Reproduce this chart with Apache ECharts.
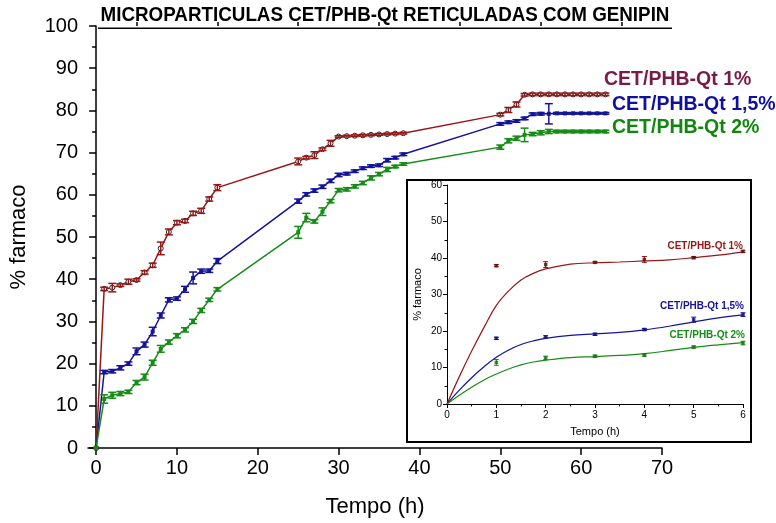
<!DOCTYPE html>
<html><head><meta charset="utf-8">
<script src="https://cdn.jsdelivr.net/npm/echarts@6/dist/echarts.min.js"></script>
<style>html,body{margin:0;padding:0;background:#fff}#c{width:776px;height:523px}</style>
</head><body><div id="c"></div>
<script>
// ---- main chart data ----
const timeMain = [0,1,2,3,4,5,6,7,8,9,10,11,12,13,14,15,25,26,27,28,29,30,31,32,33,34,35,36,37,38,50,51,52,53,54,55,56,57,58,59,60,61,62,63];
const rel1  = [0,37.7,38.0,38.6,39.4,39.8,41.6,43.3,47.3,51.2,53.4,53.8,55.6,56.2,59.0,61.7, 67.9,68.8,69.4,70.8,72.2,73.8,73.9,74.0,74.1,74.2,74.3,74.4,74.5,74.6, 79.0,80.1,81.4,83.7,83.8,83.8,83.8,83.8,83.8,83.8,83.8,83.8,83.8,83.8];
const err1  = [0,0.4,1.0,0.3,0.6,0.3,0.4,0.5,1.5,0.7,0.5,0.4,0.5,0.6,0.5,0.7, 0.8,0.3,0.8,0.3,0.7,0.2,0.2,0.2,0.2,0.2,0.2,0.2,0.2,0.2, 0.3,0.6,0.6,0.3,0.3,0.3,0.3,0.3,0.3,0.3,0.3,0.3,0.3,0.3];
const rel15 = [0,18.0,18.2,19.0,20.0,22.9,24.5,27.6,31.4,35.1,35.4,37.6,40.3,41.9,42.0,44.3, 58.5,60.1,61.0,61.9,63.3,64.7,65.0,65.6,66.3,66.8,67.0,68.2,68.8,69.6, 76.8,77.2,77.5,78.1,79.1,79.2,79.2,79.3,79.3,79.3,79.3,79.3,79.3,79.3];
const err15 = [0,0.4,0.4,0.5,0.4,0.8,0.6,1.0,0.6,0.5,0.4,0.7,1.4,0.5,0.4,0.6, 0.5,0.4,0.4,0.4,0.4,0.4,0.3,0.3,0.3,0.3,0.3,0.4,0.3,0.3, 0.3,0.3,0.3,0.3,0.3,0.3,2.4,0.2,0.2,0.2,0.2,0.2,0.2,0.2];
const rel2  = [0,11.6,12.5,12.9,13.3,15.5,16.8,20.2,23.5,25.1,26.6,28.0,30.0,32.6,35.1,37.6, 51.1,54.6,53.7,56.0,58.5,61.1,61.3,62.0,62.8,64.0,64.9,66.0,66.7,67.3, 71.3,72.8,73.4,74.2,74.4,74.7,75.0,75.0,75.0,75.0,75.0,75.0,75.0,75.0];
const err2  = [0,1.0,0.7,0.5,0.4,0.5,0.7,0.6,0.8,0.5,0.5,0.5,0.5,0.5,0.4,0.4, 1.4,1.0,0.4,0.9,0.4,0.4,0.4,0.4,0.4,0.5,0.4,0.5,0.3,0.3, 0.5,0.5,0.5,1.6,0.4,0.5,0.5,0.3,0.3,0.3,0.3,0.3,0.3,0.3];
const mainXTicks = [0,10,20,30,40,50,60,70];
const mainXMinor = [5,15,25,35,45,55,65];

// ---- inset data ----
const timeInset = [1,2,3,4,5,6];
const ins1  = [37.9,38.2,38.8,39.6,40.1,41.8];
const insErr1 = [0.3,0.8,0.2,0.8,0.3,0.3];
const ins15 = [18.0,18.4,19.1,20.4,23.1,24.5];
const insErr15 = [0.3,0.3,0.3,0.3,0.7,0.5];
const ins2  = [11.4,12.6,13.1,13.4,15.6,16.7];
const insErr2 = [0.8,0.5,0.3,0.3,0.3,0.5];
const fitTime = [0,0.25,0.5,0.75,1,1.25,1.5,1.75,2,2.5,3,3.5,4,4.5,5,5.5,6];
const fit1  = [0,7.5,14.5,21,27,31,34,35.8,37,38.3,38.7,38.9,39.2,39.5,40.1,40.8,41.7];
const fit15 = [0,3.8,7.2,10.2,12.8,14.8,16.3,17.3,18.0,18.8,19.2,19.6,20.3,21.3,22.5,23.6,24.4];
const fit2  = [0,2.4,4.6,6.6,8.2,9.6,10.7,11.5,12.0,12.7,13.0,13.3,13.8,14.6,15.5,16.2,16.8];

const titleText = 'MICROPARTICULAS CET/PHB-Qt RETICULADAS COM GENIPIN';
const names = ['CET/PHB-Qt 1%','CET/PHB-Qt 1,5%','CET/PHB-Qt 2%'];

const C1 = '#9a1616', C15 = '#14149a', C2 = '#168c16';
const T1 = '#7a1a48', T15 = '#1010a0', T2 = '#10880f';
const FONT = "'Liberation Sans', Arial, sans-serif";

const pairs = (xs, ys) => xs.map((x, i) => [x, ys[i]]);
const triples = (xs, ys, es) => xs.map((x, i) => [x, ys[i], es[i]]).filter(d => d[2] > 0);

function errRender(cap, color, lw) {
  return function (params, api) {
    const x = api.value(0), y = api.value(1), e = api.value(2);
    const p1 = api.coord([x, y + e]), p2 = api.coord([x, y - e]);
    const st = { stroke: color, lineWidth: lw };
    return { type: 'group', children: [
      { type: 'line', shape: { x1: p1[0], y1: p1[1], x2: p2[0], y2: p2[1] }, style: st },
      { type: 'line', shape: { x1: p1[0] - cap, y1: p1[1], x2: p1[0] + cap, y2: p1[1] }, style: st },
      { type: 'line', shape: { x1: p2[0] - cap, y1: p2[1], x2: p2[0] + cap, y2: p2[1] }, style: st }
    ]};
  };
}
function errSeries(xi, yi, data, cap, color, lw) {
  return { type: 'custom', xAxisIndex: xi, yAxisIndex: yi, renderItem: errRender(cap, color, lw),
    data: data, encode: { x: 0, y: 1 }, z: 4, silent: true };
}

const axisLineStyle = { color: '#000', width: 1.5 };
const chart = echarts.init(document.getElementById('c'), null, { renderer: 'canvas' });
chart.setOption({
  animation: false,
  backgroundColor: '#fff',
  textStyle: { fontFamily: FONT },
  grid: [
    { left: 87, top: 26, width: 575, height: 425 },
    { left: 447, top: 185, width: 296, height: 219 }
  ],
  xAxis: [
    { gridIndex: 0, type: 'value', min: -1, max: 70,
      axisLine: { show: true, lineStyle: axisLineStyle },
      axisTick: { show: true, customValues: mainXTicks, length: 7, lineStyle: { color: '#000', width: 1.5 } },
      axisLabel: { show: true, customValues: mainXTicks, fontSize: 20, color: '#000', margin: 10, fontFamily: FONT },
      splitLine: { show: false },
      name: 'Tempo (h)', nameLocation: 'middle', nameGap: 48,
      nameTextStyle: { fontSize: 22, color: '#000', fontFamily: FONT } },
    { gridIndex: 0, type: 'value', min: -1, max: 70,
      axisLine: { show: false },
      axisTick: { show: true, customValues: mainXMinor, length: 4, lineStyle: { color: '#000', width: 1.5 } },
      axisLabel: { show: false }, splitLine: { show: false } },
    { gridIndex: 1, type: 'value', min: 0, max: 6, interval: 1,
      axisLine: { show: true, lineStyle: { color: '#000', width: 1 } },
      axisTick: { show: true, length: 4, lineStyle: { color: '#000' } },
      minorTick: { show: true, splitNumber: 2, length: 2.5, lineStyle: { color: '#000' } },
      axisLabel: { fontSize: 10, color: '#000', margin: 6, fontFamily: FONT },
      splitLine: { show: false },
      name: 'Tempo (h)', nameLocation: 'middle', nameGap: 22,
      nameTextStyle: { fontSize: 11, color: '#000', fontFamily: FONT } }
  ],
  yAxis: [
    { gridIndex: 0, type: 'value', min: 0, max: 100, interval: 10,
      axisLine: { show: true, lineStyle: axisLineStyle },
      axisTick: { show: true, length: 7, lineStyle: { color: '#000', width: 1.5 } },
      minorTick: { show: true, splitNumber: 2, length: 4, lineStyle: { color: '#000', width: 1.5 } },
      axisLabel: { fontSize: 20, color: '#000', margin: 10, fontFamily: FONT },
      splitLine: { show: false },
      name: '% farmaco', nameLocation: 'middle', nameGap: 58,
      nameTextStyle: { fontSize: 22, color: '#000', fontFamily: FONT } },
    { gridIndex: 1, type: 'value', min: 0, max: 60, interval: 10,
      axisLine: { show: true, lineStyle: { color: '#000', width: 1 } },
      axisTick: { show: true, length: 4, lineStyle: { color: '#000' } },
      minorTick: { show: true, splitNumber: 2, length: 2.5, lineStyle: { color: '#000' } },
      axisLabel: { fontSize: 10, color: '#000', margin: 5, fontFamily: FONT },
      splitLine: { show: false },
      name: '% farmaco', nameLocation: 'middle', nameGap: 24,
      nameTextStyle: { fontSize: 11, color: '#000', fontFamily: FONT } }
  ],
  graphic: [
    { type: 'rect', z: -10, shape: { x: 407, y: 180, width: 344, height: 262 },
      style: { fill: '#fff', stroke: '#000', lineWidth: 2 } },
    { type: 'text', x: 385, y: 15.5, scaleX: 0.94, z: 10, style: { text: titleText, fill: '#000', align: 'center', verticalAlign: 'middle',
      font: "bold 20px 'Liberation Sans', Arial, sans-serif" } },
    { type: 'rect', z: 10, shape: { x: 98, y: 27.5, width: 574, height: 1.5 }, style: { fill: '#000' } },
    { type: 'text', x: 604, y: 80, style: { text: names[0], fill: T1, verticalAlign: 'middle', font: "bold 19.5px 'Liberation Sans', Arial, sans-serif" } },
    { type: 'text', x: 612, y: 105, style: { text: names[1], fill: T15, verticalAlign: 'middle', font: "bold 19.5px 'Liberation Sans', Arial, sans-serif" } },
    { type: 'text', x: 612, y: 128, style: { text: names[2], fill: T2, verticalAlign: 'middle', font: "bold 19.5px 'Liberation Sans', Arial, sans-serif" } },
    { type: 'text', x: 743, y: 246, style: { text: names[0], fill: C1, align: 'right', verticalAlign: 'middle', font: "bold 10px 'Liberation Sans', Arial, sans-serif" } },
    { type: 'text', x: 744, y: 306, style: { text: names[1], fill: C15, align: 'right', verticalAlign: 'middle', font: "bold 10px 'Liberation Sans', Arial, sans-serif" } },
    { type: 'text', x: 745, y: 335, style: { text: names[2], fill: C2, align: 'right', verticalAlign: 'middle', font: "bold 10px 'Liberation Sans', Arial, sans-serif" } }
  ],
  series: [
    { name: names[0], type: 'line', xAxisIndex: 0, yAxisIndex: 0, data: pairs(timeMain, rel1),
      lineStyle: { color: C1, width: 1.5 }, symbol: 'circle', symbolSize: 5,
      itemStyle: { color: '#fff', borderColor: '#222', borderWidth: 1 }, z: 3 },
    { name: names[1], type: 'line', xAxisIndex: 0, yAxisIndex: 0, data: pairs(timeMain, rel15),
      lineStyle: { color: C15, width: 1.5 }, symbol: 'rect', symbolSize: 4,
      itemStyle: { color: C15 }, z: 3 },
    { name: names[2], type: 'line', xAxisIndex: 0, yAxisIndex: 0, data: pairs(timeMain, rel2),
      lineStyle: { color: C2, width: 1.5 }, symbol: 'rect', symbolSize: 4,
      itemStyle: { color: C2 }, z: 3 },
    errSeries(0, 0, triples(timeMain, rel1, err1), 4, C1, 1.5),
    errSeries(0, 0, triples(timeMain, rel15, err15), 4, C15, 1.5),
    errSeries(0, 0, triples(timeMain, rel2, err2), 4, C2, 1.5),

    { type: 'line', xAxisIndex: 2, yAxisIndex: 1, data: pairs(fitTime, fit1), smooth: 0.4, symbol: 'none', lineStyle: { color: C1, width: 1.2 } },
    { type: 'line', xAxisIndex: 2, yAxisIndex: 1, data: pairs(fitTime, fit15), smooth: 0.4, symbol: 'none', lineStyle: { color: C15, width: 1.2 } },
    { type: 'line', xAxisIndex: 2, yAxisIndex: 1, data: pairs(fitTime, fit2), smooth: 0.4, symbol: 'none', lineStyle: { color: C2, width: 1.2 } },
    { type: 'scatter', xAxisIndex: 2, yAxisIndex: 1, data: pairs(timeInset, ins1), symbol: 'rect', symbolSize: 3.5, itemStyle: { color: '#4a1010' }, z: 5 },
    { type: 'scatter', xAxisIndex: 2, yAxisIndex: 1, data: pairs(timeInset, ins15), symbol: 'rect', symbolSize: 3.5, itemStyle: { color: '#10107a' }, z: 5 },
    { type: 'scatter', xAxisIndex: 2, yAxisIndex: 1, data: pairs(timeInset, ins2), symbol: 'rect', symbolSize: 3.5, itemStyle: { color: '#107010' }, z: 5 },
    errSeries(2, 1, triples(timeInset, ins1, insErr1), 2.5, C1, 1),
    errSeries(2, 1, triples(timeInset, ins15, insErr15), 2.5, C15, 1),
    errSeries(2, 1, triples(timeInset, ins2, insErr2), 2.5, C2, 1)
  ]
});
</script>
</body></html>
